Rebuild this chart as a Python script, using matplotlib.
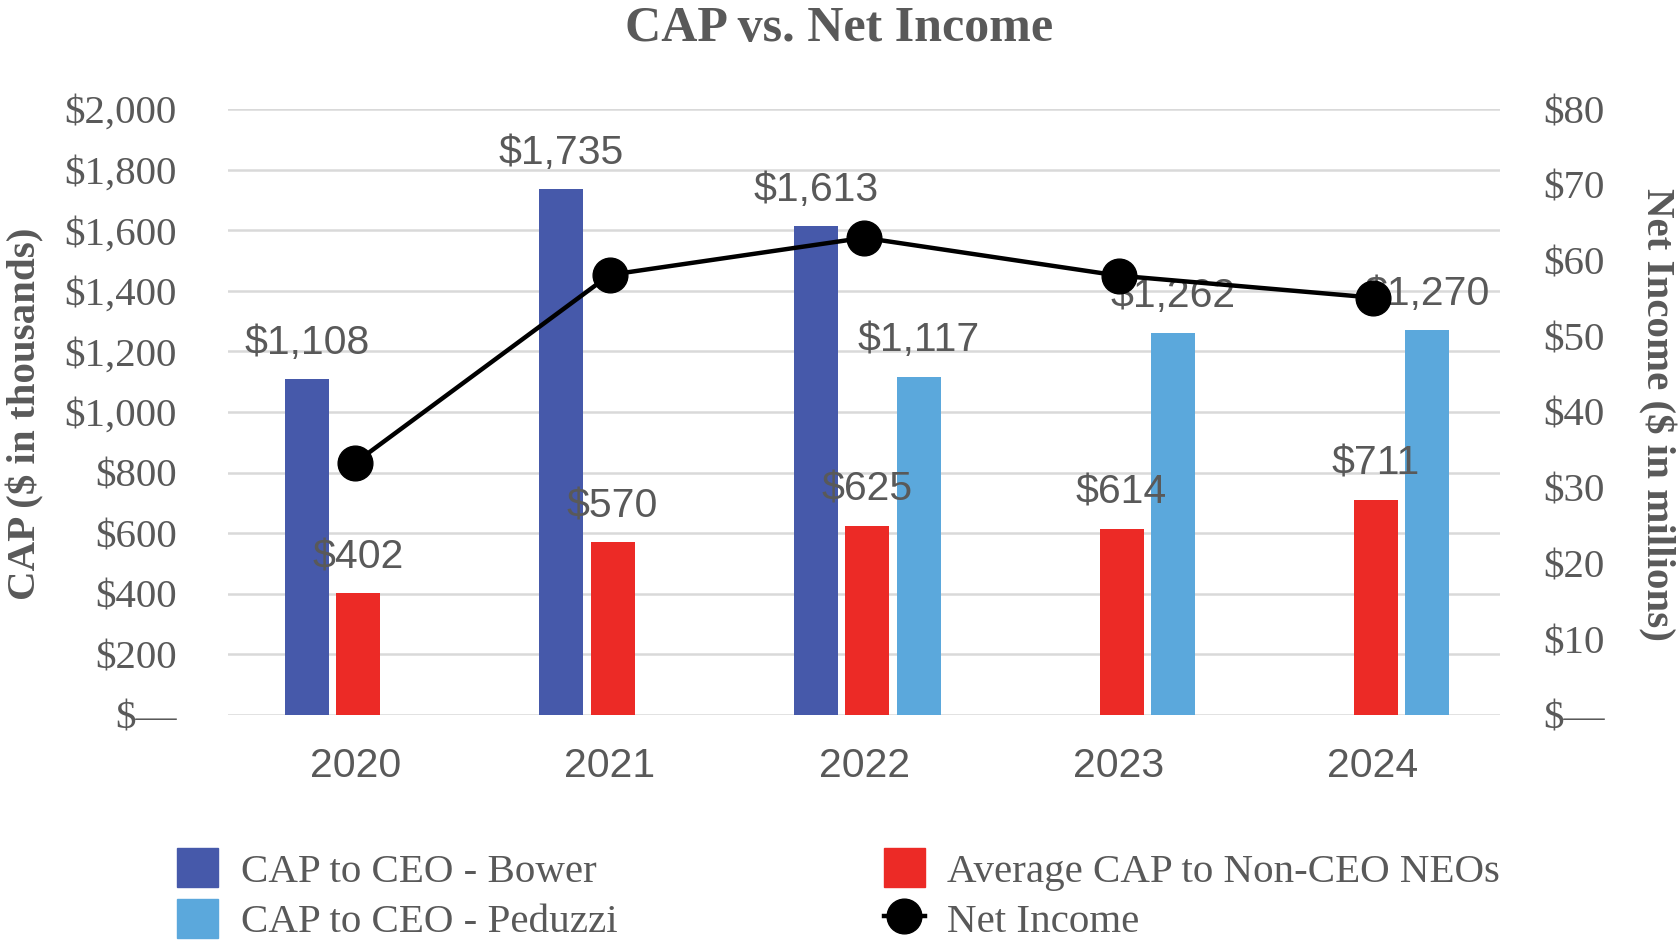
import numpy as np
import matplotlib
matplotlib.use("Agg")
import matplotlib.pyplot as plt
from matplotlib.lines import Line2D
from matplotlib.patches import Patch

years = ["2020", "2021", "2022", "2023", "2024"]
cap_bower = [1108, 1735, 1613, np.nan, np.nan]
cap_avg_neo = [402, 570, 625, 614, 711]
cap_peduzzi = [np.nan, np.nan, 1117, 1262, 1270]
net_income = [33.3, 58.1, 63.0, 58.0, 55.1]
left_ticks = [0, 200, 400, 600, 800, 1000, 1200, 1400, 1600, 1800, 2000]
right_ticks = [0, 10, 20, 30, 40, 50, 60, 70, 80]

C_BOWER = "#4659AA"
C_NEO = "#EC2A26"
C_PED = "#5BA8DC"
GRAY = "#595959"
SERIF = "Liberation Serif"
SANS = "Liberation Sans"

fig = plt.figure(figsize=(16.8, 9.52), dpi=100)
ax = fig.add_axes([0.1357, 0.249, 0.7573, 0.6365])
ax2 = ax.twinx()

x = np.arange(len(years))
w = 0.173
off = 0.202

series = [(cap_bower, -off, C_BOWER), (cap_avg_neo, 0.0, C_NEO), (cap_peduzzi, off, C_PED)]
for vals, o, col in series:
    vals = np.array(vals, dtype=float)
    m = ~np.isnan(vals)
    ax.bar(x[m] + o + 0.012, vals[m], width=w, color=col, zorder=2)
    for xi, v in zip(x[m] + o + 0.012, vals[m]):
        ax.annotate(f"${int(v):,}", (xi, v), xytext=(0, 26), textcoords="offset points",
                    ha="center", va="center", fontsize=29.5, color=GRAY, family=SANS, zorder=5)

ax2.plot(x, net_income, color="black", lw=3.2, marker="o", markersize=25, zorder=4)

ax.set_xlim(-0.5, 4.5)
ax.set_ylim(0, 2000)
ax2.set_ylim(0, 80)
ax.set_yticks(left_ticks)
ax.set_yticklabels(["$—" if t == 0 else f"${t:,}" for t in left_ticks])
ax2.set_yticks(right_ticks)
ax2.set_yticklabels(["$—" if t == 0 else f"${t}" for t in right_ticks])
ax.set_xticks(x)
ax.set_xticklabels(years)

ax.grid(axis="y", color="#d9d9d9", lw=1.8, zorder=0)
ax.set_axisbelow(True)
for a in (ax, ax2):
    for s in a.spines.values():
        s.set_visible(False)
ax.tick_params(axis="y", length=0, pad=37, labelsize=29.5, labelcolor=GRAY)
ax.tick_params(axis="x", length=0, pad=23, labelsize=29.5, labelcolor=GRAY)
ax2.tick_params(axis="y", length=0, pad=31, labelsize=29.5, labelcolor=GRAY)
for lab in ax.get_yticklabels() + ax2.get_yticklabels():
    lab.set_family(SERIF)
for lab in ax.get_xticklabels():
    lab.set_family(SANS)

fig.text(0.4994, 0.97, "CAP vs. Net Income", ha="center", va="center", fontsize=36,
         fontweight="bold", family=SERIF, color=GRAY)
fig.text(0.015, 0.565, "CAP ($ in thousands)", rotation=90, ha="center", va="center",
         fontsize=29.5, fontweight="bold", family=SERIF, color=GRAY)
fig.text(0.986, 0.565, "Net Income ($ in millions)", rotation=270, ha="center", va="center",
         fontsize=29.5, fontweight="bold", family=SERIF, color=GRAY)

handles = [Patch(color=C_BOWER), Patch(color=C_PED), Patch(color=C_NEO),
           Line2D([], [], color="black", lw=3.2, marker="o", markersize=25)]
labels = ["CAP to CEO - Bower", "CAP to CEO - Peduzzi", "Average CAP to Non-CEO NEOs", "Net Income"]
leg = fig.legend(handles, labels, ncol=2, loc="upper left", bbox_to_anchor=(0.0835, 0.148),
                 frameon=False, prop={"family": SERIF, "size": 29.5}, handlelength=1.0,
                 handleheight=1.1, handletextpad=0.55, columnspacing=6.5, labelspacing=0.2,
                 labelcolor=GRAY)

fig.savefig("out.png", dpi=100)
